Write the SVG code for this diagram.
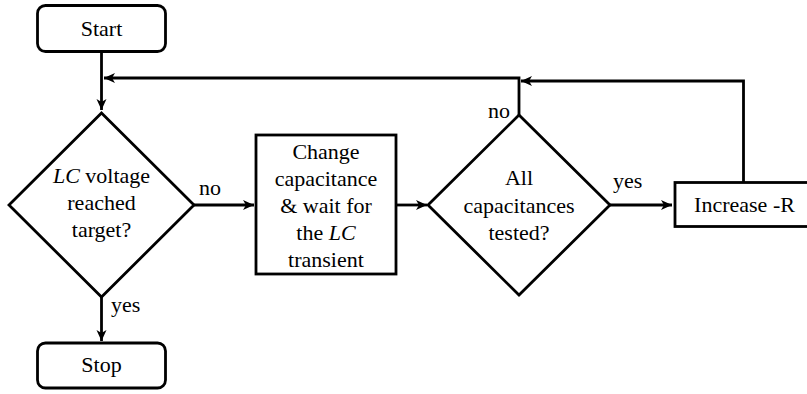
<svg xmlns="http://www.w3.org/2000/svg" width="807" height="394" viewBox="0 0 807 394">
<defs>
<style>
.n{fill:#fff;stroke:#000;stroke-width:2.8;stroke-linejoin:miter}
.c{fill:none;stroke:#000;stroke-width:2.8;stroke-linejoin:miter}
text{font-family:"Liberation Serif","Times New Roman",serif;font-size:22px;fill:#000}
.m{text-anchor:middle}
.i{font-style:italic}
</style>
<marker id="ar" markerUnits="userSpaceOnUse" markerWidth="14" markerHeight="12" refX="11" refY="5" orient="auto" overflow="visible">
<path d="M0,0 L11,5 L0,10 L3,5 Z" fill="#000"/>
</marker>
</defs>
<g id="connectors">
<path class="c" d="M101.5,52 V110" marker-end="url(#ar)"/>
<path class="c" d="M519,115 V78 H104" marker-end="url(#ar)"/>
<path class="c" d="M743.5,182 V81 H521" marker-end="url(#ar)"/>
<path class="c" d="M194,205 H254" marker-end="url(#ar)"/>
<path class="c" d="M396,205 H427" marker-end="url(#ar)"/>
<path class="c" d="M610,205 H672" marker-end="url(#ar)"/>
<path class="c" d="M101.5,297 V341" marker-end="url(#ar)"/>
<text x="199" y="195">no</text>
<text x="488" y="118">no</text>
<text x="613" y="188">yes</text>
<text x="111" y="312">yes</text>
</g>
<g id="start">
<rect class="n" x="37.5" y="5.5" width="128" height="46" rx="8"/>
<text class="m" x="101.5" y="36">Start</text>
</g>
<g id="check-voltage">
<polygon class="n" points="101.5,113 194,205 101.5,297 9,205"/>
<text class="m" x="101.5" y="183"><tspan class="i">LC</tspan> voltage</text>
<text class="m" x="101.5" y="210">reached</text>
<text class="m" x="101.5" y="237">target?</text>
</g>
<g id="change-cap">
<rect class="n" x="256" y="135" width="140" height="139"/>
<text class="m" x="326" y="159">Change</text>
<text class="m" x="326" y="186">capacitance</text>
<text class="m" x="326" y="213">&amp; wait for</text>
<text class="m" x="326" y="240">the <tspan class="i">LC</tspan></text>
<text class="m" x="326" y="266.5">transient</text>
</g>
<g id="all-tested">
<polygon class="n" points="519,115 610,205 519,295 428,205"/>
<text class="m" x="519" y="185">All</text>
<text class="m" x="519" y="212.5">capacitances</text>
<text class="m" x="519" y="240">tested?</text>
</g>
<g id="increase-r">
<rect class="n" x="675" y="182.5" width="140" height="44"/>
<text class="m" x="744.5" y="212">Increase -R</text>
</g>
<g id="stop">
<rect class="n" x="37.5" y="343" width="128" height="45" rx="8"/>
<text class="m" x="101.5" y="372">Stop</text>
</g>
</svg>
